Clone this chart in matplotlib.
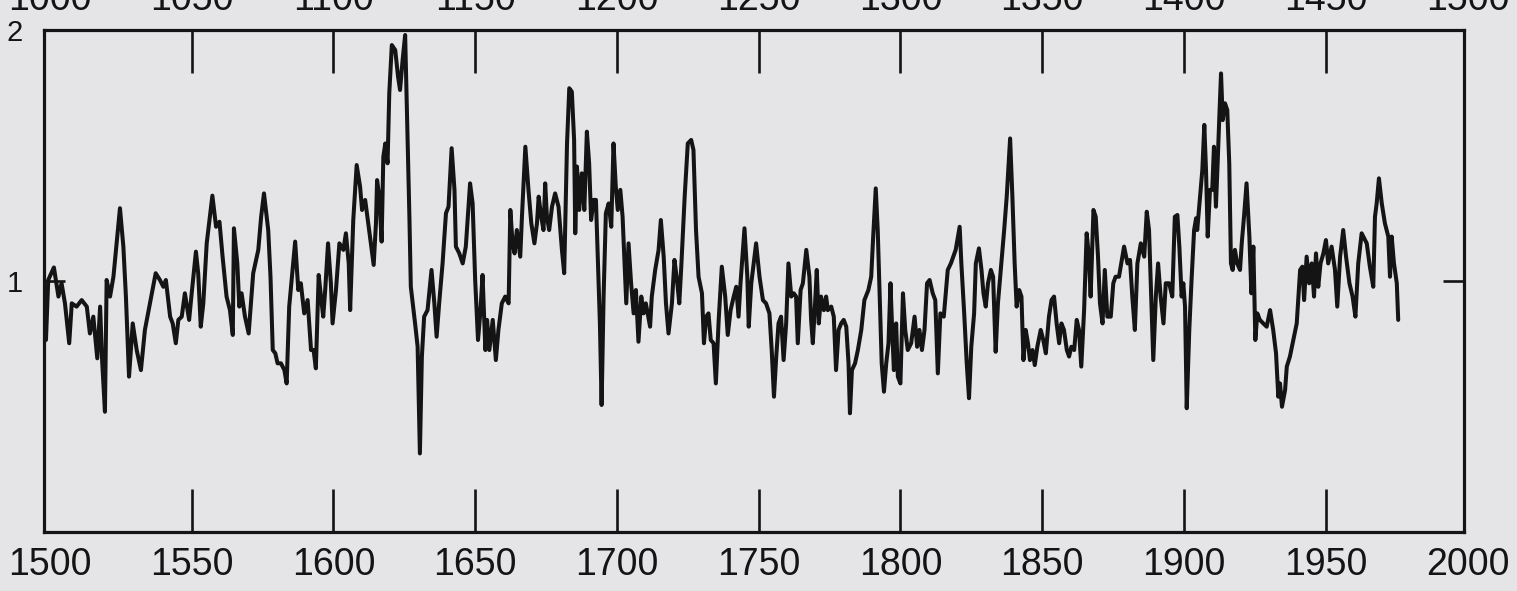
import matplotlib
matplotlib.use('Agg')
import matplotlib.pyplot as plt
import matplotlib.transforms as mtransforms

# ---------------- data ----------------
years_a = [1498.6,1499.4,1501.4,1503.0,1504.1,1505.3,1506.8,1507.7,1509.4,1511.2,1513.0,1514.1,1515.3,1516.7,1517.7,1518.4,1519.4,1520.0,1521.2,1522.4,1524.7,1525.9,1526.8,1527.9,1529.2,1530.6,1532.1,1533.5,1535.3,1537.3,1538.8,1540.0,1540.9,1542.4,1543.3,1544.4,1545.3,1546.5,1547.6,1549.1,1550.0,1551.5,1552.3,1553.2,1554.1,1555.3,1557.3,1558.6,1559.8,1560.9,1562.3,1563.5,1564.5,1564.9,1566.1,1566.8,1567.6,1568.8,1570.1,1571.7,1573.5,1574.5,1575.5,1577.0,1577.8]
vals_a = [0.765,1.004,1.054,0.938,0.991,0.911,0.752,0.911,0.898,0.924,0.898,0.791,0.858,0.692,0.898,0.685,0.479,1.004,0.938,1.017,1.290,1.137,0.938,0.619,0.831,0.725,0.645,0.805,0.911,1.031,1.004,0.977,1.004,0.858,0.831,0.752,0.845,0.858,0.951,0.845,0.951,1.117,1.031,0.818,0.911,1.150,1.340,1.216,1.236,1.097,0.938,0.884,0.785,1.210,1.070,0.898,0.951,0.858,0.791,1.031,1.124,1.256,1.349,1.203,1.017]

years_b = [1578.6,1579.5,1580.3,1581.5,1582.7,1583.5,1584.4,1586.5,1587.6,1588.5,1589.7,1590.9,1592.1,1593.0,1593.8,1594.8,1595.6,1596.4,1597.1,1598.1,1599.1,1599.7,1600.9,1602.1,1603.5,1604.4,1605.4,1605.9,1607.0,1608.2,1609.4,1610.1,1611.2,1612.6,1614.2,1615.0,1615.4,1616.2,1617.0,1617.6,1618.3,1619.1,1619.7,1620.6,1621.8,1622.8,1623.5,1624.4,1625.3,1626.1,1626.8,1627.3,1628.8,1629.7,1630.5,1631.2,1632.0,1633.2,1634.6,1635.6,1636.4,1637.3,1638.5,1639.7,1640.6,1641.7,1642.7,1643.2,1644.4,1645.6,1646.7,1648.2,1649.1,1650.0,1651.0,1651.8,1652.6,1653.6,1654.2,1655.0,1656.2,1657.3]
vals_b = [0.725,0.712,0.672,0.672,0.645,0.592,0.898,1.157,0.964,0.991,0.871,0.924,0.725,0.725,0.652,1.024,0.938,0.858,0.964,1.150,0.991,0.831,0.964,1.150,1.124,1.190,1.070,0.884,1.243,1.462,1.376,1.283,1.323,1.203,1.064,1.230,1.402,1.336,1.157,1.495,1.548,1.469,1.748,1.940,1.920,1.814,1.761,1.880,1.980,1.602,1.256,0.977,0.831,0.738,0.313,0.699,0.858,0.884,1.044,0.911,0.778,0.911,1.070,1.270,1.296,1.529,1.363,1.137,1.110,1.070,1.137,1.389,1.309,1.004,0.765,0.871,1.024,0.725,0.845,0.725,0.845,0.685]

years_c = [1658.2,1659.4,1660.6,1661.8,1662.4,1663.2,1663.9,1664.7,1665.9,1666.5,1667.7,1668.8,1669.8,1670.9,1671.8,1672.4,1673.3,1674.1,1674.7,1675.3,1676.1,1677.1,1678.2,1679.4,1680.6,1681.4,1682.4,1683.2,1684.1,1684.9,1685.3,1685.9,1686.7,1687.6,1688.5,1689.4,1690.2,1690.9,1691.8,1692.6,1693.3,1694.0,1694.6,1695.3,1696.1,1697.1,1698.0,1698.8,1699.6,1700.3,1701.2,1702.0,1702.7,1703.3,1704.1,1705.0,1705.9,1706.7,1707.6,1708.6,1709.4,1710.2,1711.7,1712.3,1713.5,1714.7,1715.5,1716.5,1717.3,1718.2,1719.4,1720.3,1721.2,1722.0,1722.7,1723.9,1725.0,1726.2,1727.0,1727.9,1728.8,1730.0,1730.7,1731.5,1732.3,1733.1,1734.1,1734.9,1735.9,1737.0]
vals_c = [0.805,0.911,0.938,0.911,1.283,1.150,1.110,1.203,1.097,1.256,1.535,1.363,1.230,1.150,1.230,1.336,1.256,1.203,1.389,1.256,1.203,1.296,1.349,1.296,1.124,1.031,1.548,1.768,1.754,1.562,1.190,1.456,1.283,1.429,1.283,1.595,1.469,1.243,1.323,1.323,1.070,0.831,0.506,0.938,1.270,1.309,1.216,1.548,1.376,1.283,1.363,1.256,1.070,0.911,1.150,0.991,0.871,0.964,0.758,0.938,0.871,0.911,0.818,0.938,1.044,1.124,1.243,1.097,0.911,0.791,0.911,1.084,1.004,0.911,1.057,1.336,1.548,1.562,1.522,1.203,1.017,0.951,0.752,0.858,0.871,0.765,0.752,0.592,0.845,1.057]

years_d = [1738.2,1739.1,1740.1,1741.2,1742.1,1742.9,1743.6,1745.0,1746.0,1746.5,1747.4,1749.1,1750.3,1751.5,1752.6,1753.8,1754.6,1755.4,1756.2,1757.0,1757.9,1758.8,1759.7,1760.5,1761.5,1762.4,1763.2,1763.8,1764.8,1765.6,1766.8,1767.9,1768.5,1769.1,1769.9,1770.5,1771.2,1772.0,1773.0,1773.8,1774.4,1775.6,1776.5,1777.3,1778.2,1779.1,1780.0,1780.9,1781.7,1782.2,1782.9,1784.0,1785.0,1786.2,1787.3,1788.7,1789.7,1790.4,1791.3,1792.0,1792.7,1793.4,1794.2,1795.0,1795.8,1796.5,1797.1,1797.7,1798.5,1799.1,1800.0,1800.9,1801.7,1802.6,1803.8,1805.0,1805.9,1806.7,1807.6,1808.5,1809.4,1810.3,1811.4,1812.3,1813.2,1814.1,1815.3,1816.7]
vals_d = [0.938,0.785,0.884,0.938,0.977,0.858,0.991,1.210,1.017,0.818,0.991,1.150,1.017,0.924,0.911,0.871,0.725,0.539,0.699,0.831,0.858,0.685,0.831,1.070,0.938,0.951,0.938,0.752,0.964,0.991,1.124,1.017,0.845,0.752,0.911,1.044,0.831,0.938,0.884,0.938,0.884,0.898,0.858,0.645,0.805,0.831,0.845,0.818,0.672,0.473,0.645,0.672,0.725,0.805,0.924,0.964,1.017,1.177,1.369,1.203,0.938,0.672,0.559,0.672,0.752,0.991,0.805,0.645,0.831,0.619,0.592,0.951,0.805,0.725,0.752,0.858,0.738,0.805,0.725,0.805,0.991,1.004,0.951,0.924,0.632,0.871,0.858,1.044]

years_e = [1817.8,1819.5,1820.9,1821.5,1822.5,1823.4,1824.2,1825.0,1826.0,1826.6,1827.7,1828.6,1829.3,1830.1,1830.9,1831.9,1832.7,1833.6,1834.4,1835.4,1836.6,1837.5,1838.7,1839.5,1840.3,1841.0,1841.9,1842.7,1843.4,1844.2,1845.0,1845.7,1846.6,1847.4,1848.3,1849.5,1850.4,1851.3,1852.4,1853.3,1854.2,1855.1,1856.0,1856.8,1857.7,1858.7,1859.5,1860.3,1861.3,1862.2,1863.0,1863.8,1864.8,1865.7,1866.5,1867.1,1868.1,1868.9,1869.7,1870.4,1871.3,1872.1,1873.0,1874.2,1875.1,1875.9,1877.1,1878.3,1878.9,1880.1,1881.0,1881.8,1882.7,1883.6,1884.8,1886.0,1886.9,1887.7,1888.3,1889.2,1890.1,1890.9,1891.8,1892.8,1893.6,1894.8,1895.9,1896.8]
vals_e = [1.070,1.124,1.216,1.070,0.871,0.672,0.533,0.738,0.871,1.070,1.130,1.044,0.951,0.898,0.991,1.044,1.017,0.718,0.911,1.044,1.203,1.336,1.568,1.336,1.070,0.898,0.964,0.938,0.685,0.805,0.752,0.685,0.725,0.665,0.738,0.805,0.765,0.712,0.858,0.924,0.938,0.831,0.752,0.831,0.805,0.725,0.699,0.738,0.725,0.845,0.805,0.659,0.884,1.190,1.097,0.938,1.283,1.256,1.097,0.911,0.831,1.044,0.858,0.858,0.991,1.017,1.017,1.097,1.137,1.070,1.084,0.938,0.805,1.070,1.150,1.097,1.276,1.203,0.991,0.685,0.938,1.070,0.938,0.831,0.991,0.991,0.938,1.256]

years_f = [1897.7,1898.4,1899.2,1899.8,1900.4,1901.0,1901.9,1902.7,1903.6,1904.3,1904.7,1905.7,1906.5,1907.2,1907.8,1908.4,1909.2,1910.0,1910.6,1911.3,1911.9,1912.5,1913.1,1913.7,1914.5,1915.3,1916.0,1916.6,1917.2,1918.0,1918.8,1919.8,1920.4,1921.2,1922.1,1923.1,1923.8,1924.5,1925.2,1925.9,1926.8,1928.0,1929.2,1930.4,1931.5,1932.5,1933.3,1933.9,1934.6,1935.7,1936.3,1937.4,1938.6,1939.8,1941.0,1941.8,1942.4,1943.3,1944.2,1945.1,1945.9,1946.6,1947.4,1948.2,1949.2,1950.1,1950.9,1952.1,1953.3,1954.1,1955.1,1956.2,1957.2,1958.4,1959.5,1960.5,1961.5,1962.7,1964.5,1965.6,1966.8,1967.4,1968.0,1968.8,1969.8,1970.9,1972.1,1972.7,1973.3,1974.1,1975.1,1975.6]
vals_f = [1.263,1.137,0.938,0.991,0.898,0.493,0.805,1.004,1.203,1.250,1.203,1.336,1.442,1.622,1.442,1.177,1.363,1.363,1.535,1.296,1.469,1.655,1.827,1.641,1.708,1.681,1.469,1.070,1.044,1.124,1.070,1.044,1.150,1.256,1.389,1.177,0.951,1.137,0.765,0.871,0.845,0.831,0.818,0.884,0.805,0.712,0.539,0.592,0.499,0.566,0.659,0.699,0.765,0.831,1.044,1.057,0.924,1.097,0.991,1.070,0.938,1.110,0.977,1.070,1.110,1.163,1.070,1.137,1.044,0.898,1.097,1.203,1.097,0.991,0.938,0.858,1.070,1.190,1.150,1.057,0.977,1.256,1.309,1.409,1.309,1.230,1.177,1.017,1.177,1.070,0.991,0.845]

x_tick_years = [1500, 1550, 1600, 1650, 1700, 1750, 1800, 1850, 1900, 1950, 2000]
x_tick_labels = ['1500', '1550', '1600', '1650', '1700', '1750', '1800', '1850', '1900', '1950', '2000']
top_labels = ['1000', '1050', '1100', '1150', '1200', '1250', '1300', '1350', '1400', '1450', '1500']
y_ticks = [1, 2]
y_tick_labels = ['1', '2']

years = years_a + years_b + years_c + years_d + years_e + years_f
values = vals_a + vals_b + vals_c + vals_d + vals_e + vals_f

# ---------------- styling ----------------
plt.rcParams['font.family'] = ['Liberation Sans', 'DejaVu Sans']
BG = '#e5e5e7'
INK = '#141414'
W, H = 1517, 591

fig = plt.figure(figsize=(W / 100, H / 100), dpi=100)
fig.patch.set_facecolor(BG)
ax = fig.add_axes([43.7 / W, 1 - 532 / H, (1463.7 - 43.7) / W, (532 - 30) / H])
ax.set_facecolor(BG)

ax.plot(years, values, color=INK, lw=2.9, solid_joinstyle='round', solid_capstyle='round')

ax.set_xlim(1497.8, 1998.7)
ax.set_ylim(0, 2)

inner = [t for t in x_tick_years if 1497.8 < t < 1998.7]
ax.set_xticks(inner)
ax.set_xticklabels([lab for t, lab in zip(x_tick_years, x_tick_labels) if 1497.8 < t < 1998.7])
ax.set_yticks(y_ticks)
ax.set_yticklabels(y_tick_labels)

XFS = 27
ax.tick_params(axis='x', direction='in', top=True, bottom=True, length=31, width=1.9,
               color=INK, labelcolor=INK, labelsize=XFS, pad=11)
ax.tick_params(axis='y', direction='in', left=True, right=True, length=15, width=1.9,
               color=INK, labelcolor=INK, labelsize=21, pad=15)
for t in ax.xaxis.get_major_ticks():
    if abs(t.get_loc() - 1500) < 1e-6:
        t.tick1line.set_visible(False)
        t.tick2line.set_visible(False)

for s in ax.spines.values():
    s.set_linewidth(2.3)
    s.set_color(INK)

# label that falls at the right spine
for t, lab in zip(x_tick_years, x_tick_labels):
    if not (1497.8 < t < 1998.7):
        ax.annotate(lab, xy=(t, 0), xycoords=('data', 'axes fraction'),
                    xytext=(0, -11), textcoords='offset points',
                    ha='center', va='top', fontsize=XFS, color=INK, annotation_clip=False)

# cut-off labels of the panel above (only their lower part shows, as in the source)
trans = mtransforms.blended_transform_factory(ax.transData, fig.transFigure)
for t, lab in zip(x_tick_years, top_labels):
    ax.text(t, 1 - 10 / H, lab, transform=trans, ha='center', va='baseline',
            fontsize=XFS, color=INK, clip_on=False)

fig.savefig('out.png', dpi=100, facecolor=BG)
